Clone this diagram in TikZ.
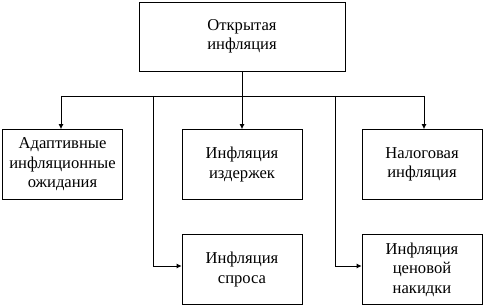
\documentclass[tikz,border=0pt]{standalone}
\usepackage{fontspec}
\setmainfont{Liberation Serif}
\usetikzlibrary{arrows.meta}
\begin{document}
\begin{tikzpicture}[x=1pt,y=-1pt,
  box/.style={draw, line width=0.8pt, minimum width=120pt, minimum height=70pt, align=center, inner sep=0pt,
    font=\fontsize{16.6}{19.5}\selectfont},
  link/.style={line width=0.8pt},
  arr/.style={line width=0.8pt, -{Latex[length=5pt,width=5pt]}}]
\useasboundingbox (0,0) rectangle (486,307);
\node[box, minimum width=206pt, minimum height=69pt] (top) at (242,36.5) {Открытая\\инфляция};
\node[box] (a) at (62.5,164.5) {Адаптивные\\инфляционные\\ожидания};
\node[box] (b) at (242,164.5) {Инфляция\\издержек};
\node[box] (c) at (422,164.5) {Налоговая\\инфляция};
\node[box] (d) at (242,269.5) {Инфляция\\спроса};
\node[box] (e) at (422,269.5) {Инфляция\\ценовой\\накидки};
\coordinate (hub) at (242,96);
\coordinate (bl) at (61,96);
\coordinate (br) at (424,96);
\coordinate (v1) at (153,96);
\coordinate (v2) at (335,96);
\coordinate (k1) at (153,266);
\coordinate (k2) at (335,266);
\draw[link] (top.south) -- (hub);
\draw[link] (bl) -- (br);
\draw[arr] (bl) -- (bl |- a.north);
\draw[arr] (hub) -- (b.north);
\draw[arr] (br) -- (br |- c.north);
\draw[arr] (v1) -- (k1) -- (k1 -| d.west);
\draw[arr] (v2) -- (k2) -- (k2 -| e.west);
\end{tikzpicture}
\end{document}
